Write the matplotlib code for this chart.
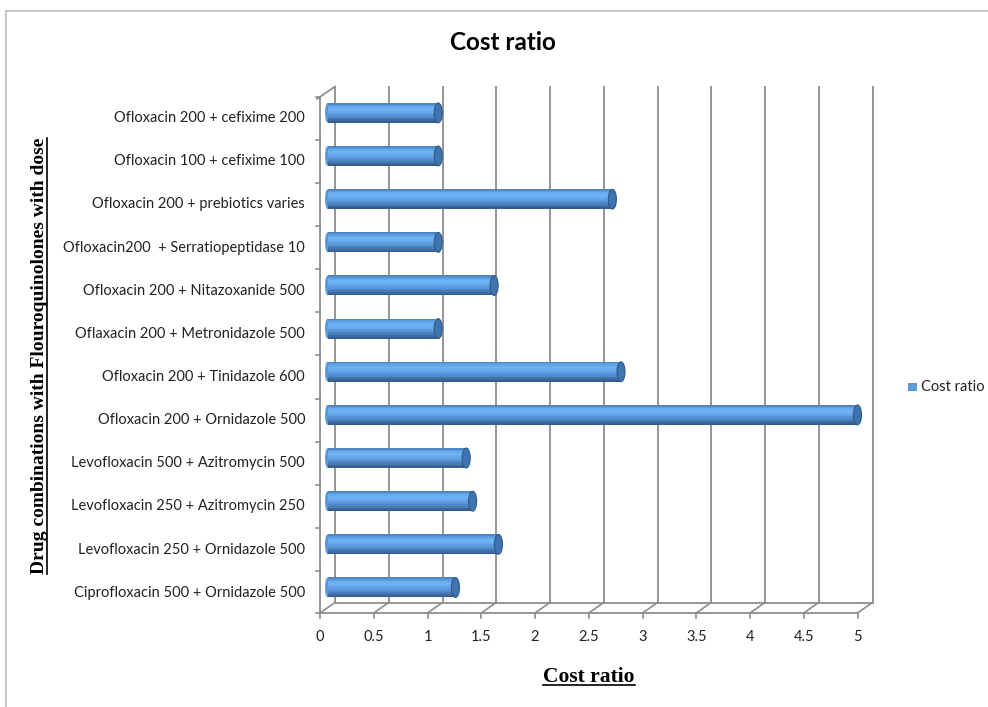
import matplotlib
matplotlib.use("Agg")
import matplotlib.pyplot as plt
from matplotlib.transforms import offset_copy, IdentityTransform
from matplotlib.patches import Ellipse, Rectangle
from matplotlib.lines import Line2D
import numpy as np

# ---------------- data ----------------
categories = [
    "Ciprofloxacin 500 + Ornidazole 500",
    "Levofloxacin 250 + Ornidazole 500",
    "Levofloxacin 250 + Azitromycin 250",
    "Levofloxacin 500 + Azitromycin 500",
    "Ofloxacin 200 + Ornidazole 500",
    "Ofloxacin 200 + Tinidazole 600",
    "Oflaxacin 200 + Metronidazole 500",
    "Ofloxacin 200 + Nitazoxanide 500",
    "Ofloxacin200  + Serratiopeptidase 10",
    "Ofloxacin 200 + prebiotics varies",
    "Ofloxacin 100 + cefixime 100",
    "Ofloxacin 200 + cefixime 200",
]
cost_ratio = [1.19, 1.59, 1.35, 1.29, 4.93, 2.73, 1.03, 1.55, 1.03, 2.65, 1.03, 1.03]
x_ticks = [0, 0.5, 1, 1.5, 2, 2.5, 3, 3.5, 4, 4.5, 5]
x_ticklabels = ["0", "0.5", "1", "1.5", "2", "2.5", "3", "3.5", "4", "4.5", "5"]
title = "Cost ratio"
series_name = "Cost ratio"
xlabel = "Cost ratio"
ylabel = "Drug combinations with Flouroquinolones with dose"

# ---------------- figure ----------------
W, H = 988, 707
fig = plt.figure(figsize=(W / 100, H / 100), dpi=100)
fig.patch.set_facecolor("white")
PIX = IdentityTransform()

# outer chart border (light gray)
fig.add_artist(Line2D([6, 6], [0, H - 11], transform=PIX, color="#BFBFBF", lw=1.2))
fig.add_artist(Line2D([6, W], [H - 11, H - 11], transform=PIX, color="#BFBFBF", lw=1.2))

# front plane axes: x 0..5 -> px 320..857.5, y front px 613..97
ax_l, ax_r, ax_b, ax_t = 320, 857.5, 613, 97
ax = fig.add_axes([ax_l / W, 1 - ax_b / H, (ax_r - ax_l) / W, (ax_b - ax_t) / H])
ax.set_xlim(0, 5)
n = len(categories)
ax.set_ylim(-0.47, n - 1 + 0.49)
ax.axis("off")

DX, DY = 15, 10.5          # depth offset in pixels
back = offset_copy(ax.transData, fig=fig, x=DX, y=DY, units="dots")
mid = offset_copy(ax.transData, fig=fig, x=DX / 2, y=DY / 2, units="dots")

grid_c = "#8C8C8C"
ylo, yhi = ax.get_ylim()


def pxline(xs, ys, **kw):
    fig.add_artist(Line2D(xs, ys, transform=PIX, color=grid_c, lw=1.2,
                          clip_on=False, **kw))


# back-wall gridlines
for xv in x_ticks:
    ax.plot([xv, xv], [ylo, yhi], color=grid_c, lw=1.3, transform=back,
            solid_capstyle="butt", zorder=1, clip_on=False)
# floor back line & front line & diagonals
ax.plot([0, 5], [ylo, ylo], color=grid_c, lw=1.3, transform=back, zorder=1, clip_on=False)
ax.plot([0, 5], [ylo, ylo], color=grid_c, lw=1.3, zorder=1, clip_on=False)
for xv in x_ticks:
    p0 = ax.transData.transform((xv, ylo))
    pxline([p0[0], p0[0] + DX], [p0[1], p0[1] + DY])
    pxline([p0[0], p0[0]], [p0[1], p0[1] - 5])
# left wall front edge and top diagonal
ax.plot([0, 0], [ylo, yhi], color=grid_c, lw=1.3, zorder=1, clip_on=False)
pt = ax.transData.transform((0, yhi))
pxline([pt[0] - 3, pt[0] + DX], [pt[1] - 2, pt[1] + DY])
# left wall category tick marks
for b in np.arange(-0.5, n, 1.0):
    yy = min(max(b, ylo), yhi)
    p = ax.transData.transform((0, yy))
    pxline([p[0] - 4, p[0]], [p[1], p[1]])

# ---------------- cylinders ----------------
ypos = np.arange(n)
bh = 0.46
shades = ["#4F86C6", "#5E9DDD", "#68ABEC", "#6EB3F4", "#6BAFF0", "#66A8EA",
          "#5F9EE0", "#5894D5", "#4F87C7", "#4679B5", "#3D6BA1", "#345C8C"]
ns = len(shades)
for i, c in enumerate(shades):
    off = bh / 2 - (i + 0.5) * bh / ns
    ax.barh(ypos + off, cost_ratio, height=bh / ns + 0.004, left=0, color=c,
            edgecolor="none", transform=mid, zorder=3, clip_on=False)
cap_w = 0.075
for yv, v in zip(ypos, cost_ratio):
    ax.add_patch(Ellipse((v, yv), cap_w, bh, facecolor="#3F74AE",
                         edgecolor="#2E5A8A", lw=0.8, transform=mid, zorder=4,
                         clip_on=False))
    ax.add_patch(Ellipse((0, yv), cap_w * 0.6, bh, facecolor="#5B97D6",
                         edgecolor="none", transform=mid, zorder=2, clip_on=False))

# ---------------- text ----------------
lab_font = "Lato"
for yv, lab in zip(ypos, categories):
    p = ax.transData.transform((0, yv))
    fig.text((p[0] - 15) / W, p[1] / H, lab, ha="right", va="center",
             fontsize=10.5, family=lab_font, color="#222222")
for xv, tl in zip(x_ticks, x_ticklabels):
    p = ax.transData.transform((xv, ylo))
    fig.text(p[0] / W, (p[1] - 24) / H, tl, ha="center", va="center",
             fontsize=10.5, family=lab_font, color="#222222")

fig.text(503 / W, 1 - 42 / H, title, ha="center", va="center",
         fontsize=17.5, fontweight="bold", family=lab_font)

# legend
fig.add_artist(Rectangle((908 / W, 1 - 391 / H), 8.5 / W, 8.5 / H,
                         transform=fig.transFigure, facecolor="#5B9BD5",
                         edgecolor="none"))
fig.text(921 / W, 1 - 387 / H, series_name, ha="left", va="center",
         fontsize=10.5, family=lab_font, color="#222222")

serif = "Liberation Serif"
t_x = fig.text(589 / W, 1 - 677 / H, xlabel, ha="center", va="center",
               fontsize=15.5, fontweight="bold", family=serif)
t_y = fig.text(40 / W, 1 - 356 / H, ylabel, ha="center", va="center",
               rotation=90, fontsize=14, fontweight="bold", family=serif)

fig.canvas.draw()
r = fig.canvas.get_renderer()
bb = t_x.get_window_extent(r)
fig.add_artist(Line2D([bb.x0, bb.x1], [bb.y0 + 2, bb.y0 + 2], transform=PIX,
                      color="black", lw=1.2))
bb = t_y.get_window_extent(r)
fig.add_artist(Line2D([bb.x1 - 2, bb.x1 - 2], [bb.y0, bb.y1], transform=PIX,
                      color="black", lw=1.2))

fig.savefig("out.png", dpi=100, facecolor="white")
